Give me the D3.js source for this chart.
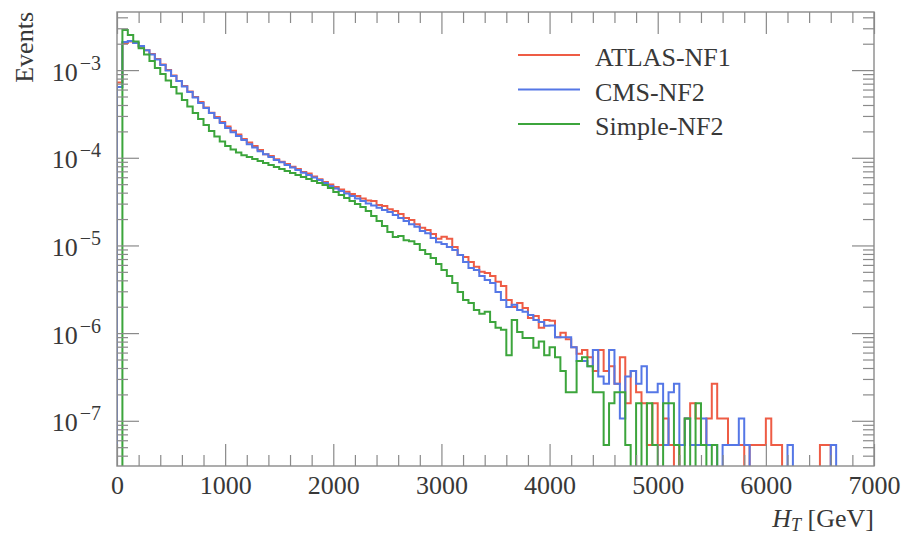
<!DOCTYPE html>
<html>
<head>
<meta charset="utf-8">
<script src="https://cdn.jsdelivr.net/npm/d3@7"></script>
<style>
  body { margin: 0; background: #fff; }
  svg { display: block; }
  text { font-family: "Liberation Serif", "DejaVu Serif", serif; fill: #383838; }
</style>
</head>
<body>
<svg id="chart" width="906" height="538"></svg>
<script>

//------------------------------------------------------------------------------
// Data (normalised events per 50 GeV bin, bin i covers [50*i, 50*i+50) GeV)
//------------------------------------------------------------------------------

var binWidth = 50;

var atlasNF1 = [
  7.2e-4, 2.04e-3, 2.12e-3, 2.04e-3, 1.85e-3, 1.69e-3, 1.53e-3, 1.34e-3, 1.16e-3, 1.0e-3,
  8.7e-4, 7.5e-4, 6.6e-4, 5.7e-4, 4.93e-4, 4.32e-4, 3.74e-4, 3.27e-4, 2.91e-4, 2.56e-4,
  2.27e-4, 2.04e-4, 1.84e-4, 1.64e-4, 1.49e-4, 1.36e-4, 1.23e-4, 1.10e-4, 1.05e-4, 9.6e-5,
  9.0e-5, 8.5e-5, 7.9e-5, 7.45e-5, 6.88e-5, 6.6e-5, 6.1e-5, 5.7e-5, 5.3e-5, 4.95e-5,
  4.64e-5, 4.35e-5, 4.1e-5, 3.85e-5, 3.67e-5, 3.43e-5, 3.25e-5, 3.21e-5, 2.89e-5, 2.82e-5,
  2.58e-5, 2.47e-5, 2.28e-5, 2.06e-5, 1.95e-5, 1.75e-5, 1.59e-5, 1.50e-5, 1.35e-5, 1.19e-5,
  1.26e-5, 1.19e-5, 9.6e-6, 7.8e-6, 7.4e-6, 6.48e-6, 5.7e-6, 5.0e-6, 4.85e-6, 4.49e-6,
  3.85e-6, 3.45e-6, 2.39e-6, 1.99e-6, 2.21e-6, 1.94e-6, 1.49e-6, 1.57e-6, 1.15e-6, 1.41e-6,
  1.38e-6, 9.0e-7, 1.01e-6, 8.5e-7, 6.9e-7, 5.8e-7, 6.4e-7, 5.3e-7, 3.7e-7, 6.4e-7,
  3.7e-7, 4.2e-7, 2.65e-7, 5.3e-7, 1.59e-7, 3.7e-7, 2.12e-7, 1.59e-7, 5.3e-8, 1.59e-7,
  5.3e-8, 1.06e-7, 5.3e-8, 0, 5.3e-8, 1.06e-7, 1.59e-7, 1.06e-7, 5.3e-8, 1.06e-7,
  2.65e-7, 1.06e-7, 1.06e-7, 5.3e-8, 5.3e-8, 5.3e-8, 0, 5.3e-8, 5.3e-8, 5.3e-8,
  1.06e-7, 5.3e-8, 5.3e-8, 0, 0, 0, 0, 0, 0, 0,
  5.3e-8, 5.3e-8
];

var cmsNF2 = [
  6.4e-4, 2.09e-3, 2.15e-3, 2.04e-3, 1.88e-3, 1.69e-3, 1.51e-3, 1.32e-3, 1.14e-3, 9.87e-4,
  8.57e-4, 7.51e-4, 6.5e-4, 5.63e-4, 4.87e-4, 4.21e-4, 3.70e-4, 3.24e-4, 2.84e-4, 2.50e-4,
  2.18e-4, 1.96e-4, 1.77e-4, 1.60e-4, 1.43e-4, 1.31e-4, 1.19e-4, 1.10e-4, 1.02e-4, 9.44e-5,
  8.9e-5, 8.27e-5, 7.75e-5, 7.26e-5, 6.77e-5, 6.36e-5, 5.96e-5, 5.57e-5, 5.15e-5, 4.76e-5,
  4.46e-5, 4.18e-5, 3.92e-5, 3.67e-5, 3.43e-5, 3.21e-5, 3.01e-5, 2.85e-5, 2.70e-5, 2.54e-5,
  2.41e-5, 2.22e-5, 2.06e-5, 1.90e-5, 1.75e-5, 1.63e-5, 1.46e-5, 1.38e-5, 1.22e-5, 1.09e-5,
  1.04e-5, 9.6e-6, 8.87e-6, 7.78e-6, 6.48e-6, 5.53e-6, 5.25e-6, 4.49e-6, 4.04e-6, 3.73e-6,
  2.95e-6, 2.39e-6, 1.99e-6, 2.10e-6, 1.84e-6, 1.75e-6, 1.61e-6, 1.41e-6, 1.34e-6, 1.21e-6,
  1.22e-6, 9.0e-7, 9.0e-7, 9.0e-7, 6.9e-7, 4.8e-7, 4.8e-7, 4.2e-7, 6.4e-7, 3.2e-7,
  2.65e-7, 6.4e-7, 2.65e-7, 1.06e-7, 3.2e-7, 3.7e-7, 2.65e-7, 4.2e-7, 2.12e-7, 2.12e-7,
  2.65e-7, 5.3e-8, 2.12e-7, 2.65e-7, 5.3e-8, 1.06e-7, 5.3e-8, 5.3e-8, 1.06e-7, 5.3e-8,
  5.3e-8, 0, 5.3e-8, 5.3e-8, 5.3e-8, 1.06e-7, 5.3e-8, 0, 0, 0,
  0, 0, 0, 0, 5.3e-8, 0, 0, 0, 0, 0,
  0, 0, 5.3e-8
];

var simpleNF2 = [
  0, 2.87e-3, 2.51e-3, 2.12e-3, 1.78e-3, 1.51e-3, 1.27e-3, 1.06e-3, 9.03e-4, 7.63e-4,
  6.42e-4, 5.41e-4, 4.56e-4, 3.85e-4, 3.24e-4, 2.77e-4, 2.37e-4, 2.02e-4, 1.75e-4, 1.53e-4,
  1.36e-4, 1.24e-4, 1.15e-4, 1.07e-4, 1.02e-4, 9.7e-5, 9.2e-5, 8.72e-5, 8.27e-5, 7.85e-5,
  7.45e-5, 7.06e-5, 6.7e-5, 6.36e-5, 6.04e-5, 5.73e-5, 5.43e-5, 5.15e-5, 4.89e-5, 4.52e-5,
  4.08e-5, 3.77e-5, 3.48e-5, 3.21e-5, 2.97e-5, 2.74e-5, 2.47e-5, 2.17e-5, 1.90e-5, 1.67e-5,
  1.42e-5, 1.25e-5, 1.28e-5, 1.15e-5, 1.12e-5, 1.04e-5, 8.87e-6, 7.99e-6, 7.2e-6, 6.15e-6,
  5.25e-6, 4.49e-6, 3.73e-6, 2.95e-6, 2.39e-6, 2.21e-6, 1.84e-6, 1.66e-6, 1.75e-6, 1.34e-6,
  1.15e-6, 1.09e-6, 5.6e-7, 1.41e-6, 1.03e-6, 8.8e-7, 8.8e-7, 6.8e-7, 8.0e-7, 5.6e-7,
  6.9e-7, 5.3e-7, 3.7e-7, 2.12e-7, 2.12e-7, 4.8e-7, 5.3e-7, 4.2e-7, 2.12e-7, 2.12e-7,
  5.3e-8, 1.59e-7, 2.12e-7, 2.12e-7, 5.3e-8, 0, 1.59e-7, 0, 1.59e-7, 5.3e-8,
  0, 1.59e-7, 1.59e-7, 5.3e-8, 0, 1.06e-7, 0, 1.59e-7, 5.3e-8, 0,
  5.3e-8
];

var seriesNames = ["ATLAS-NF1", "CMS-NF2", "Simple-NF2"];
var seriesColors = ["#ee5c45", "#5577e6", "#3ca53c"];
var xTickValues = [0, 1000, 2000, 3000, 4000, 5000, 6000, 7000];
var yTickExponents = [-7, -6, -5, -4, -3];


//------------------------------------------------------------------------------
// Chart
//------------------------------------------------------------------------------

var chart = {

  margin: {left: 117, right: 32, top: 12, bottom: 72},
  width: 906,
  height: 538,
  majorTick: 22,
  minorTick: 11,
  frameColor: "#8a8a8a",

  initialize: function() {
    var m = this.margin;
    this.w = this.width - m.left - m.right;
    this.h = this.height - m.top - m.bottom;

    this.x = d3.scaleLinear().domain([0, 7000]).range([0, this.w]);
    this.y = d3.scaleLog().domain([3.05e-8, 4.6e-3]).range([this.h, 0]);

    this.svg = d3.select("#chart");
    this.g = this.svg.append("g")
      .attr("transform", "translate(" + m.left + "," + m.top + ")");

    this.g.append("clipPath").attr("id", "plot-clip")
      .append("rect")
      .attr("x", 0).attr("y", -2)
      .attr("width", this.w).attr("height", this.h + 2);

    this.drawHistograms();
    this.drawAxes();
    this.drawLegend();
    this.drawTitles();
  },

  //--------------------------------------
  // Histograms
  //--------------------------------------

  stepPoints: function(values) {
    var x = this.x, y = this.y, bottom = this.h + 3;
    var yv = function(v) { return v > 0 ? Math.min(y(v), bottom) : bottom; };
    var pts = [[x(0), bottom]];
    values.forEach(function(v, i) {
      pts.push([x(i * binWidth), yv(v)]);
      pts.push([x((i + 1) * binWidth), yv(v)]);
    });
    pts.push([x(values.length * binWidth), bottom]);
    pts.push([x(7000), bottom]);
    return pts;
  },

  drawHistograms: function() {
    var $this = this;
    var data = [atlasNF1, cmsNF2, simpleNF2];
    var line = d3.line();

    this.g.append("g")
      .attr("clip-path", "url(#plot-clip)")
      .selectAll("path")
      .data(data)
      .enter().append("path")
        .attr("d", function(d) { return line($this.stepPoints(d)); })
        .attr("fill", "none")
        .attr("stroke", function(d, i) { return seriesColors[i]; })
        .attr("stroke-width", 2)
        .attr("stroke-linejoin", "miter");
  },

  //--------------------------------------
  // Axes and frame
  //--------------------------------------

  styleAxis: function(sel) {
    sel.select(".domain").remove();
    sel.selectAll("line").attr("stroke", this.frameColor).attr("stroke-width", 1.2);
  },

  drawAxes: function() {
    var x = this.x, y = this.y, w = this.w, h = this.h;
    var xMinor = x.ticks(35).filter(function(d) { return d % 1000 !== 0; });
    var yMinor = y.ticks().filter(function(d) {
      return Math.abs(Math.log10(d) - Math.round(Math.log10(d))) > 1e-6;
    });
    var yMajor = yTickExponents.map(function(e) { return Math.pow(10, e); });

    // bottom / top
    var bottom = this.g.append("g").attr("transform", "translate(0," + h + ")")
      .call(d3.axisBottom(x).tickValues(xTickValues).tickSize(-this.majorTick).tickFormat(d3.format("d")));
    bottom.selectAll("text")
      .attr("dy", 0).attr("y", 28)
      .attr("font-size", 26).attr("fill", "#383838");
    this.styleAxis(bottom);
    this.g.append("g").attr("transform", "translate(0," + h + ")")
      .call(d3.axisBottom(x).tickValues(xMinor).tickSize(-this.minorTick).tickFormat(""))
      .call(this.styleAxis.bind(this));

    this.g.append("g")
      .call(d3.axisTop(x).tickValues(xTickValues).tickSize(-this.majorTick).tickFormat(""))
      .call(this.styleAxis.bind(this));
    this.g.append("g")
      .call(d3.axisTop(x).tickValues(xMinor).tickSize(-this.minorTick).tickFormat(""))
      .call(this.styleAxis.bind(this));

    // left / right
    var left = this.g.append("g")
      .call(d3.axisLeft(y).tickValues(yMajor).tickSize(-this.majorTick).tickFormat(""))
      .call(this.styleAxis.bind(this));
    left.selectAll(".tick").append("text")
      .attr("x", -16).attr("y", 10)
      .attr("text-anchor", "end")
      .attr("font-size", 26)
      .attr("fill", "#383838")
      .each(function(d) {
        var t = d3.select(this);
        t.append("tspan").text("10");
        t.append("tspan").attr("dx", 2).attr("dy", -11).attr("font-size", 20)
          .text("\u2212" + Math.abs(Math.round(Math.log10(d))));
      });
    this.g.append("g")
      .call(d3.axisLeft(y).tickValues(yMinor).tickSize(-this.minorTick).tickFormat(""))
      .call(this.styleAxis.bind(this));

    this.g.append("g").attr("transform", "translate(" + w + ",0)")
      .call(d3.axisRight(y).tickValues(yMajor).tickSize(-this.majorTick).tickFormat(""))
      .call(this.styleAxis.bind(this));
    this.g.append("g").attr("transform", "translate(" + w + ",0)")
      .call(d3.axisRight(y).tickValues(yMinor).tickSize(-this.minorTick).tickFormat(""))
      .call(this.styleAxis.bind(this));

    this.g.append("rect")
      .attr("x", 0).attr("y", 0)
      .attr("width", w).attr("height", h)
      .attr("fill", "none")
      .attr("stroke", this.frameColor)
      .attr("stroke-width", 1.4);
  },

  //--------------------------------------
  // Legend and titles
  //--------------------------------------

  drawLegend: function() {
    var items = this.svg.append("g").attr("transform", "translate(518,55)")
      .selectAll("g")
      .data(seriesNames)
      .enter().append("g")
        .attr("transform", function(d, i) { return "translate(0," + (i * 34.5) + ")"; });

    items.append("line")
      .attr("x1", 0).attr("x2", 62)
      .attr("stroke", function(d, i) { return seriesColors[i]; })
      .attr("stroke-width", 2);

    items.append("text")
      .attr("x", 77).attr("y", 11)
      .attr("font-size", 26)
      .text(function(d) { return d; });
  },

  drawTitles: function() {
    var xt = this.svg.append("text")
      .attr("x", 874).attr("y", 527)
      .attr("text-anchor", "end")
      .attr("font-size", 26);
    xt.append("tspan").attr("font-style", "italic").text("H");
    xt.append("tspan").attr("font-style", "italic").attr("font-size", 18).attr("dy", 4).text("T");
    xt.append("tspan").attr("dy", -4).text(" [GeV]");

    this.svg.append("text")
      .attr("transform", "translate(33,12) rotate(-90)")
      .attr("text-anchor", "end")
      .attr("font-size", 26)
      .text("Events");
  }
};

chart.initialize();

</script>
</body>
</html>
